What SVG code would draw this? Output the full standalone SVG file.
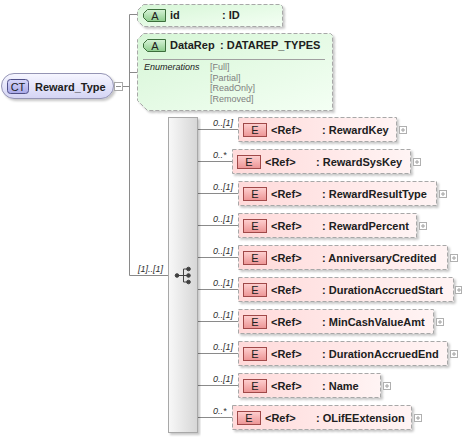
<svg xmlns="http://www.w3.org/2000/svg" width="462" height="438" viewBox="0 0 462 438">
<defs>
<linearGradient id="gCT" x1="0" y1="0" x2="0" y2="1"><stop offset="0" stop-color="#f6f6ff"/><stop offset="1" stop-color="#d4d4f4"/></linearGradient>
<linearGradient id="gCTb" x1="0" y1="0" x2="0" y2="1"><stop offset="0" stop-color="#d8d8fa"/><stop offset="1" stop-color="#a8a8e8"/></linearGradient>
<linearGradient id="gA" x1="0" y1="0" x2="1" y2="1"><stop offset="0" stop-color="#d6f6d6"/><stop offset="1" stop-color="#f4fff4"/></linearGradient>
<linearGradient id="gAb" x1="0" y1="0" x2="0" y2="1"><stop offset="0" stop-color="#d8f4d8"/><stop offset="1" stop-color="#8ccc8c"/></linearGradient>
<linearGradient id="gE" x1="0" y1="0" x2="1" y2="0"><stop offset="0" stop-color="#ffdada"/><stop offset="1" stop-color="#fff4f4"/></linearGradient>
<linearGradient id="gEb" x1="0" y1="0" x2="0" y2="1"><stop offset="0" stop-color="#ffd0d0"/><stop offset="1" stop-color="#ec9494"/></linearGradient>
<linearGradient id="gSeq" x1="0" y1="0" x2="1" y2="0"><stop offset="0" stop-color="#f8f8f8"/><stop offset="1" stop-color="#d6d6d6"/></linearGradient>
<filter id="sh" x="-5%" y="-10%" width="115%" height="130%"><feDropShadow dx="2" dy="2" stdDeviation="1" flood-color="#000" flood-opacity="0.22"/></filter>
</defs>
<style>
text{font-family:"Liberation Sans",Arial,sans-serif;}
.conn line,.conn path{stroke:#8a8a8a;stroke-width:1;fill:none;}
.box{stroke:#a8a8a8;stroke-width:1;stroke-dasharray:4,2;filter:url(#sh);}
.ebox{fill:url(#gE);}
.abox{fill:url(#gA);}
.eb{fill:url(#gEb);stroke:#a04848;stroke-width:1;}
.ab{fill:url(#gAb);stroke:#3c6e3c;stroke-width:1;}
.bt{font-size:11px;fill:#202020;text-anchor:middle;}
.nm{font-size:11px;font-weight:bold;fill:#202020;}
.mul{font-size:9px;font-style:italic;fill:#303030;}
.enum{font-size:9px;fill:#808080;}
.pl rect{fill:#fff;stroke:#b0b0b0;stroke-width:1;}
.pl line{stroke:#a0a0a0;stroke-width:1;}
</style>
<g class="conn" id="connectors">
<line x1="122.5" y1="86.5" x2="129.5" y2="86.5"/>
<line x1="129.5" y1="14.5" x2="129.5" y2="275.5"/>
<line x1="129.5" y1="14.5" x2="137.5" y2="14.5"/>
<line x1="129.5" y1="72.5" x2="137.5" y2="72.5"/>
<line x1="129.5" y1="275.5" x2="168.5" y2="275.5"/>
<line x1="197.5" y1="129.5" x2="238" y2="129.5"/>
<line x1="197.5" y1="161.5" x2="232" y2="161.5"/>
<line x1="197.5" y1="193.5" x2="238" y2="193.5"/>
<line x1="197.5" y1="225.5" x2="238" y2="225.5"/>
<line x1="197.5" y1="257.5" x2="238" y2="257.5"/>
<line x1="197.5" y1="289.5" x2="238" y2="289.5"/>
<line x1="197.5" y1="321.5" x2="238" y2="321.5"/>
<line x1="197.5" y1="353.5" x2="238" y2="353.5"/>
<line x1="197.5" y1="385.5" x2="238" y2="385.5"/>
<line x1="197.5" y1="417.5" x2="232" y2="417.5"/>
<text class="mul" x="138" y="272">[1]..[1]</text>
<text class="mul" x="213" y="126">0..[1]</text>
<text class="mul" x="213" y="158">0..*</text>
<text class="mul" x="213" y="190">0..[1]</text>
<text class="mul" x="213" y="222">0..[1]</text>
<text class="mul" x="213" y="254">0..[1]</text>
<text class="mul" x="213" y="286">0..[1]</text>
<text class="mul" x="213" y="318">0..[1]</text>
<text class="mul" x="213" y="350">0..[1]</text>
<text class="mul" x="213" y="382">0..[1]</text>
<text class="mul" x="213" y="414">0..*</text>
</g>
<g id="Reward_Type">
<rect x="1.5" y="73.5" width="112" height="25" rx="12.5" fill="url(#gCT)" stroke="#9494b4" filter="url(#sh)"/>
<rect x="7.5" y="79.5" width="21" height="14" rx="3" fill="url(#gCTb)" stroke="#505088"/>
<text class="bt" x="18" y="90.5" fill="#303060">CT</text>
<text class="nm" x="35" y="90.5">Reward_Type</text>
<rect x="114.5" y="82.5" width="8" height="8" fill="#fff" stroke="#a8a8a8"/>
<line x1="116" y1="86.5" x2="121" y2="86.5" stroke="#909090"/>
</g>
<g id="attr_id">
<path class="box abox" d="M143.5 4.5 H280.5 L282.5 6.5 V26.5 H143.5 L137.5 20.5 V10.5 Z"/>
<path class="ab" d="M147.5 9.5 H165.5 V21.5 H147.5 L143.5 17.5 V13.5 Z"/>
<text class="bt" x="155" y="19.5" font-size="10">A</text>
<text class="nm" x="170" y="19">id</text>
<text class="nm" x="222" y="19">: ID</text>
</g>
<g id="attr_DataRep">
<path class="box abox" d="M143.5 33.5 H330.5 L332.5 35.5 V110.5 H147.5 L137.5 100.5 V39.5 Z"/>
<path class="ab" d="M147.5 39.5 H165.5 V51.5 H147.5 L143.5 47.5 V43.5 Z"/>
<text class="bt" x="155" y="49.5" font-size="10">A</text>
<text class="nm" x="170" y="49">DataRep</text>
<text class="nm" x="220" y="49">: DATAREP_TYPES</text>
<line x1="143" y1="59.5" x2="325" y2="59.5" stroke="#a0a0a0"/>
<text x="144" y="70" font-size="9" font-style="italic" fill="#202020">Enumerations</text>
<text class="enum" x="210" y="70">[Full]</text>
<text class="enum" x="210" y="80.5">[Partial]</text>
<text class="enum" x="210" y="91">[ReadOnly]</text>
<text class="enum" x="210" y="101.5">[Removed]</text>
</g>
<g id="sequence">
<rect x="168.5" y="117.5" width="29" height="315" fill="url(#gSeq)" stroke="#a8a8a8" filter="url(#sh)"/>
<g stroke="#404040" fill="#404040">
<line x1="177" y1="275.5" x2="183.5" y2="275.5"/>
<line x1="183.5" y1="269" x2="183.5" y2="282"/>
<line x1="183.5" y1="269" x2="188" y2="269"/>
<line x1="183.5" y1="282" x2="188" y2="282"/>
<line x1="183.5" y1="275.5" x2="188" y2="275.5"/>
<circle cx="177" cy="275.5" r="1.8"/>
<circle cx="188.5" cy="269" r="1.8"/>
<circle cx="188.5" cy="275.5" r="1.8"/>
<circle cx="188.5" cy="282" r="1.8"/>
</g>
</g>
<g id="RewardKey">
<rect class="box ebox" x="238.5" y="117.5" width="158" height="24"/>
<rect class="eb" x="243.5" y="123.5" width="23" height="13"/><text class="bt" x="255" y="134">E</text>
<text class="nm" x="271" y="133.5">&lt;Ref&gt;</text><text class="nm" x="322" y="133.5">: RewardKey</text>
<g class="pl"><rect x="399.5" y="126.5" width="7" height="7"/><line x1="401" y1="130" x2="405" y2="130"/><line x1="403" y1="128" x2="403" y2="132"/></g>
</g>
<g id="RewardSysKey">
<rect class="box ebox" x="232.5" y="149.5" width="178" height="24"/>
<rect class="eb" x="237.5" y="155.5" width="23" height="13"/><text class="bt" x="249" y="166">E</text>
<text class="nm" x="265" y="165.5">&lt;Ref&gt;</text><text class="nm" x="316" y="165.5">: RewardSysKey</text>
<g class="pl"><rect x="413.5" y="158.5" width="7" height="7"/><line x1="415" y1="162" x2="419" y2="162"/><line x1="417" y1="160" x2="417" y2="164"/></g>
</g>
<g id="RewardResultType">
<rect class="box ebox" x="238.5" y="181.5" width="198" height="24"/>
<rect class="eb" x="243.5" y="187.5" width="23" height="13"/><text class="bt" x="255" y="198">E</text>
<text class="nm" x="271" y="197.5">&lt;Ref&gt;</text><text class="nm" x="322" y="197.5">: RewardResultType</text>
<g class="pl"><rect x="439.5" y="190.5" width="7" height="7"/><line x1="441" y1="194" x2="445" y2="194"/><line x1="443" y1="192" x2="443" y2="196"/></g>
</g>
<g id="RewardPercent">
<rect class="box ebox" x="238.5" y="213.5" width="178" height="24"/>
<rect class="eb" x="243.5" y="219.5" width="23" height="13"/><text class="bt" x="255" y="230">E</text>
<text class="nm" x="271" y="229.5">&lt;Ref&gt;</text><text class="nm" x="322" y="229.5">: RewardPercent</text>
<g class="pl"><rect x="419.5" y="222.5" width="7" height="7"/><line x1="421" y1="226" x2="425" y2="226"/><line x1="423" y1="224" x2="423" y2="228"/></g>
</g>
<g id="AnniversaryCredited">
<rect class="box ebox" x="238.5" y="245.5" width="209" height="24"/>
<rect class="eb" x="243.5" y="251.5" width="23" height="13"/><text class="bt" x="255" y="262">E</text>
<text class="nm" x="271" y="261.5">&lt;Ref&gt;</text><text class="nm" x="322" y="261.5">: AnniversaryCredited</text>
<g class="pl"><rect x="450.5" y="254.5" width="7" height="7"/><line x1="452" y1="258" x2="456" y2="258"/><line x1="454" y1="256" x2="454" y2="260"/></g>
</g>
<g id="DurationAccruedStart">
<rect class="box ebox" x="238.5" y="277.5" width="215" height="24"/>
<rect class="eb" x="243.5" y="283.5" width="23" height="13"/><text class="bt" x="255" y="294">E</text>
<text class="nm" x="271" y="293.5">&lt;Ref&gt;</text><text class="nm" x="322" y="293.5">: DurationAccruedStart</text>
<g class="pl"><rect x="455.5" y="286.5" width="6" height="7"/><line x1="457" y1="290" x2="461" y2="290"/><line x1="459" y1="288" x2="459" y2="292"/></g>
</g>
<g id="MinCashValueAmt">
<rect class="box ebox" x="238.5" y="309.5" width="195" height="24"/>
<rect class="eb" x="243.5" y="315.5" width="23" height="13"/><text class="bt" x="255" y="326">E</text>
<text class="nm" x="271" y="325.5">&lt;Ref&gt;</text><text class="nm" x="322" y="325.5">: MinCashValueAmt</text>
<g class="pl"><rect x="436.5" y="318.5" width="7" height="7"/><line x1="438" y1="322" x2="442" y2="322"/><line x1="440" y1="320" x2="440" y2="324"/></g>
</g>
<g id="DurationAccruedEnd">
<rect class="box ebox" x="238.5" y="341.5" width="209" height="24"/>
<rect class="eb" x="243.5" y="347.5" width="23" height="13"/><text class="bt" x="255" y="358">E</text>
<text class="nm" x="271" y="357.5">&lt;Ref&gt;</text><text class="nm" x="322" y="357.5">: DurationAccruedEnd</text>
<g class="pl"><rect x="450.5" y="350.5" width="7" height="7"/><line x1="452" y1="354" x2="456" y2="354"/><line x1="454" y1="352" x2="454" y2="356"/></g>
</g>
<g id="Name">
<rect class="box ebox" x="238.5" y="373.5" width="142" height="24"/>
<rect class="eb" x="243.5" y="379.5" width="23" height="13"/><text class="bt" x="255" y="390">E</text>
<text class="nm" x="271" y="389.5">&lt;Ref&gt;</text><text class="nm" x="322" y="389.5">: Name</text>
<g class="pl"><rect x="383.5" y="382.5" width="7" height="7"/><line x1="385" y1="386" x2="389" y2="386"/><line x1="387" y1="384" x2="387" y2="388"/></g>
</g>
<g id="OLifEExtension">
<rect class="box ebox" x="232.5" y="405.5" width="179" height="24"/>
<rect class="eb" x="237.5" y="411.5" width="23" height="13"/><text class="bt" x="249" y="422">E</text>
<text class="nm" x="265" y="421.5">&lt;Ref&gt;</text><text class="nm" x="316" y="421.5">: OLifEExtension</text>
<g class="pl"><rect x="414.5" y="414.5" width="7" height="7"/><line x1="416" y1="418" x2="420" y2="418"/><line x1="418" y1="416" x2="418" y2="420"/></g>
</g>
</svg>
